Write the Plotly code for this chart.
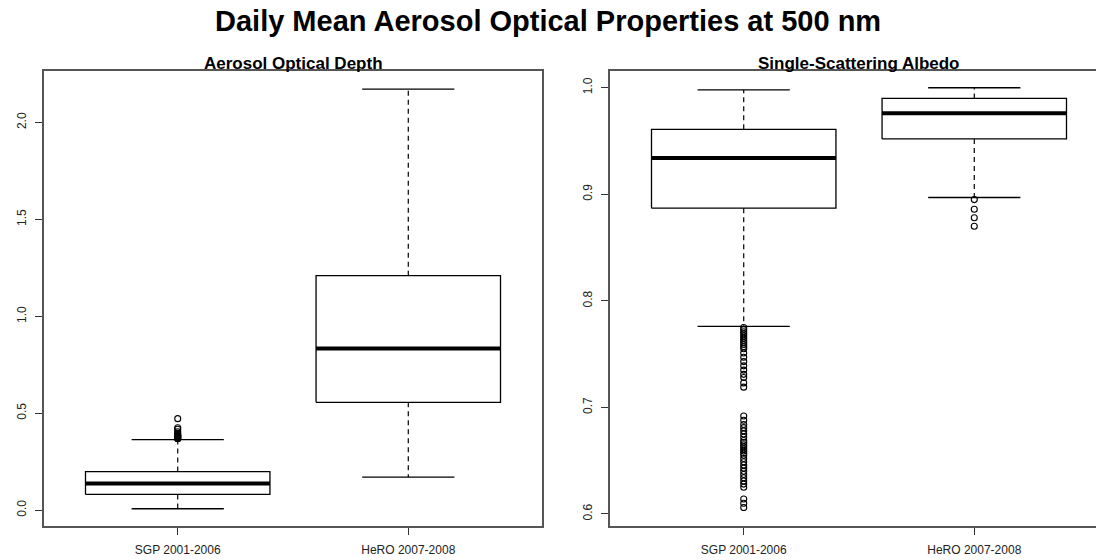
import plotly.graph_objects as go

# ---------------- data ----------------
categories = ["SGP 2001-2006", "HeRO 2007-2008"]

aod_lower = [0.007, 0.170]
aod_q1 = [0.081, 0.556]
aod_median = [0.137, 0.834]
aod_q3 = [0.199, 1.210]
aod_upper = [0.364, 2.172]
aod_outliers_sgp = [0.368, 0.370, 0.372, 0.375, 0.378, 0.380, 0.383, 0.386,
                    0.390, 0.396, 0.404, 0.417, 0.425, 0.472]
aod_outliers_hero = []

ssa_lower = [0.776, 0.897]
ssa_q1 = [0.887, 0.952]
ssa_median = [0.934, 0.976]
ssa_q3 = [0.961, 0.990]
ssa_upper = [0.998, 1.000]
ssa_outliers_sgp = [0.775, 0.773, 0.771, 0.769, 0.767, 0.765, 0.763, 0.761,
                    0.759, 0.757, 0.755, 0.751, 0.747, 0.743, 0.739, 0.735,
                    0.731, 0.728, 0.723, 0.719,
                    0.692, 0.688, 0.684, 0.681, 0.678, 0.675, 0.672, 0.669,
                    0.667, 0.665, 0.663, 0.661, 0.659, 0.657, 0.655, 0.652,
                    0.649, 0.646, 0.643, 0.640, 0.637, 0.634, 0.631, 0.628,
                    0.625, 0.614, 0.610, 0.606]
ssa_outliers_hero = [0.895, 0.886, 0.878, 0.870]

main_title = "Daily Mean Aerosol Optical Properties at 500 nm"
panel_titles = ["Aerosol Optical Depth", "Single-Scattering Albedo"]
aod_ticks = [0.0, 0.5, 1.0, 1.5, 2.0]
ssa_ticks = [0.6, 0.7, 0.8, 0.9, 1.0]

# ---------------- figure ----------------
W, H = 1096, 560
FONT = "Liberation Sans, Arial, sans-serif"
fig = go.Figure()

BOXW = 0.4   # half box width
CAPW = 0.2   # half cap width


def add_panel(xa, ya, lower, q1, med, q3, upper, outliers):
    for i in range(len(categories)):
        c = i + 1
        # dashed whiskers
        for a, b in ((q3[i], upper[i]), (q1[i], lower[i])):
            fig.add_trace(go.Scatter(x=[c, c], y=[a, b], mode="lines",
                                     line=dict(color="black", width=1.2, dash="5px,4px"),
                                     xaxis=xa, yaxis=ya, hoverinfo="skip"))
        # caps
        for v in (upper[i], lower[i]):
            fig.add_trace(go.Scatter(x=[c - CAPW, c + CAPW], y=[v, v], mode="lines",
                                     line=dict(color="black", width=1.3),
                                     xaxis=xa, yaxis=ya, hoverinfo="skip"))
        # box
        fig.add_trace(go.Scatter(x=[c - BOXW, c + BOXW, c + BOXW, c - BOXW, c - BOXW],
                                 y=[q1[i], q1[i], q3[i], q3[i], q1[i]], mode="lines",
                                 line=dict(color="black", width=1.3),
                                 xaxis=xa, yaxis=ya, hoverinfo="skip"))
        # median
        fig.add_trace(go.Scatter(x=[c - BOXW, c + BOXW], y=[med[i], med[i]], mode="lines",
                                 line=dict(color="black", width=4),
                                 xaxis=xa, yaxis=ya, hoverinfo="skip"))
        # outliers
        if outliers[i]:
            fig.add_trace(go.Scatter(x=[c] * len(outliers[i]), y=outliers[i], mode="markers",
                                     marker=dict(symbol="circle-open", size=6,
                                                 color="black", line=dict(width=1.1)),
                                     xaxis=xa, yaxis=ya, hoverinfo="skip"))


add_panel("x", "y", aod_lower, aod_q1, aod_median, aod_q3, aod_upper,
          [aod_outliers_sgp, aod_outliers_hero])
add_panel("x2", "y2", ssa_lower, ssa_q1, ssa_median, ssa_q3, ssa_upper,
          [ssa_outliers_sgp, ssa_outliers_hero])

# geometry (pixels)
L1, R1 = 44, 542
L2 = 610
TOP, BOT = 71, 526
PX_PER_UNIT = (R1 - L1) / 2.16
x2_max = 0.42 + (W - L2) / PX_PER_UNIT

ydom = [1 - BOT / H, 1 - TOP / H]
frame = "#555555"
tickfont = dict(family=FONT, size=12, color="#222222")

common_x = dict(tickvals=[1, 2], ticktext=categories, ticks="outside", ticklen=7,
                tickcolor="#333333", tickwidth=1, showgrid=False, zeroline=False,
                showline=True, linecolor=frame, linewidth=1.5, mirror=True,
                tickfont=tickfont, ticklabelstandoff=5, fixedrange=True)
common_y = dict(ticks="outside", ticklen=7, tickcolor="#333333", tickwidth=1,
                showgrid=False, zeroline=False, showline=True, linecolor=frame,
                linewidth=1.5, tickangle=-90, tickfont=tickfont, ticklabelstandoff=4,
                tickformat=".1f", fixedrange=True)

fig.update_layout(
    width=W, height=H, margin=dict(l=0, r=0, t=0, b=0),
    paper_bgcolor="white", plot_bgcolor="white", showlegend=False,
    xaxis=dict(domain=[L1 / W, R1 / W], range=[0.42, 2.58], anchor="y", **common_x),
    yaxis=dict(domain=ydom, range=[-0.082, 2.266], tickvals=aod_ticks, anchor="x",
               mirror=True, **common_y),
    xaxis2=dict(domain=[L2 / W, 1.0], range=[0.42, x2_max], anchor="y2", **common_x),
    yaxis2=dict(domain=ydom, range=[0.5887, 1.0157], tickvals=ssa_ticks, anchor="x2",
                mirror=False, **common_y),
)

fig.add_annotation(text="<b>" + main_title + "</b>", x=0.5, y=1 - 21 / H,
                   xref="paper", yref="paper", showarrow=False,
                   font=dict(family=FONT, size=29, color="black"),
                   xanchor="center", yanchor="middle")
centers = [(L1 + R1) / 2 / W, (L2 + L2 + (R1 - L1)) / 2 / W]
for t, cx in zip(panel_titles, centers):
    fig.add_annotation(text="<b>" + t + "</b>", x=cx, y=ydom[1], xref="paper", yref="paper",
                       showarrow=False, font=dict(family=FONT, size=17, color="black"),
                       xanchor="center", yanchor="bottom", yshift=-4)

fig.write_html("out.html", config={"displayModeBar": False},
               post_script="document.body.style.margin='0';"
                           "document.body.style.overflow='hidden';")
